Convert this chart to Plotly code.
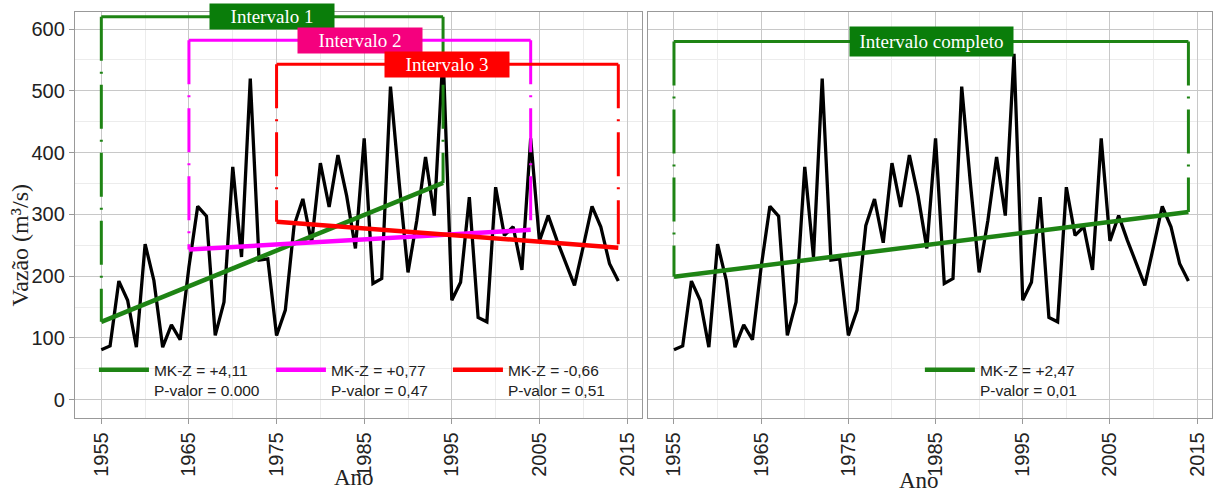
import plotly.graph_objects as go

# ==============================
# Data
# ==============================
anos = list(range(1955, 2015))
vazao = [81, 87, 192, 161, 85, 252, 193, 85, 121, 97,
         215, 313, 297, 104, 158, 377, 231, 520, 226, 228,
         104, 145, 282, 325, 254, 383, 312, 396, 330, 245,
         423, 188, 196, 507, 350, 206, 290, 393, 298, 560,
         161, 190, 328, 133, 126, 344, 266, 280, 210, 423,
         257, 298, 258, 220, 185, 248, 313, 280, 220, 192]

# intervals in the left panel
int_nomes = ["Intervalo 1", "Intervalo 2", "Intervalo 3"]
int_inicio = [1955, 1965, 1975]
int_fim = [1994, 2004, 2014]
tend_inicio = [126, 243, 288]
tend_fim = [351, 275, 246]
topo = [620, 582, 543]
mk_z = ["+4,11", "+0,77", "-0,66"]
p_valor = ["0.000", "0,47", "0,51"]
cor_linha = ["#1e8414", "#ff00ff", "#ff0000"]
cor_caixa = ["#0a7d0a", "#f5007e", "#ff0000"]

# full interval in the right panel
comp_nome = "Intervalo completo"
comp_inicio, comp_fim = 1955, 2014
comp_tend = [199, 304]
comp_topo = 580
comp_mk_z = "+2,47"
comp_p = "0,01"

SANS = "Liberation Sans, Arial, sans-serif"
SERIF = "Liberation Serif, Times New Roman, serif"
DASH = "44px,11px,2px,11px"

fig = go.Figure()

# ==============================
# Left panel
# ==============================
fig.add_trace(go.Scatter(x=anos, y=vazao, mode="lines", line=dict(color="black", width=3.3),
                         showlegend=False, xaxis="x", yaxis="y"))
for i in range(3):
    c = cor_linha[i]
    fig.add_trace(go.Scatter(x=[int_inicio[i], int_fim[i]], y=[topo[i], topo[i]], mode="lines",
                             line=dict(color=c, width=3), showlegend=False, xaxis="x", yaxis="y"))
    fig.add_trace(go.Scatter(x=[int_inicio[i], int_inicio[i]], y=[topo[i], tend_inicio[i]], mode="lines",
                             line=dict(color=c, width=3, dash=DASH), showlegend=False, xaxis="x", yaxis="y"))
    fig.add_trace(go.Scatter(x=[int_fim[i], int_fim[i]], y=[topo[i], tend_fim[i]], mode="lines",
                             line=dict(color=c, width=3, dash=DASH), showlegend=False, xaxis="x", yaxis="y"))
for i in range(3):
    fig.add_trace(go.Scatter(x=[int_inicio[i], int_fim[i]], y=[tend_inicio[i], tend_fim[i]], mode="lines",
                             line=dict(color=cor_linha[i], width=4.5),
                             name="MK-Z = " + mk_z[i] + "<br>P-valor = " + p_valor[i],
                             legend="legend", xaxis="x", yaxis="y"))
    fig.add_annotation(x=(int_inicio[i] + int_fim[i]) / 2, y=topo[i], xref="x", yref="y",
                       text=int_nomes[i], showarrow=False, bgcolor=cor_caixa[i],
                       width=122, height=23, font=dict(family=SERIF, size=19, color="white"))

# ==============================
# Right panel
# ==============================
fig.add_trace(go.Scatter(x=anos, y=vazao, mode="lines", line=dict(color="black", width=3.3),
                         showlegend=False, xaxis="x2", yaxis="y2"))
fig.add_trace(go.Scatter(x=[comp_inicio, comp_fim], y=[comp_topo, comp_topo], mode="lines",
                         line=dict(color=cor_linha[0], width=3), showlegend=False, xaxis="x2", yaxis="y2"))
fig.add_trace(go.Scatter(x=[comp_inicio, comp_inicio], y=[comp_topo, comp_tend[0]], mode="lines",
                         line=dict(color=cor_linha[0], width=3, dash=DASH), showlegend=False, xaxis="x2", yaxis="y2"))
fig.add_trace(go.Scatter(x=[comp_fim, comp_fim], y=[comp_topo, comp_tend[1]], mode="lines",
                         line=dict(color=cor_linha[0], width=3, dash=DASH), showlegend=False, xaxis="x2", yaxis="y2"))
fig.add_trace(go.Scatter(x=[comp_inicio, comp_fim], y=comp_tend, mode="lines",
                         line=dict(color=cor_linha[0], width=4.5),
                         name="MK-Z = " + comp_mk_z + "<br>P-valor = " + comp_p,
                         legend="legend2", xaxis="x2", yaxis="y2"))
fig.add_annotation(x=(comp_inicio + comp_fim) / 2, y=comp_topo, xref="x2", yref="y2",
                   text=comp_nome, showarrow=False, bgcolor=cor_caixa[0],
                   width=161, height=27, font=dict(family=SERIF, size=19, color="white"))

# ==============================
# Axes & layout
# ==============================
eixo_x = dict(range=[1952.0, 2016.7], tickmode="array", tickvals=list(range(1955, 2016, 10)),
              tickangle=-90, tickfont=dict(family=SANS, size=20, color="#222"),
              showgrid=True, gridcolor="#c8c8c8", gridwidth=1,
              minor=dict(tickvals=list(range(1960, 2016, 10)), showgrid=True, gridcolor="#ececec", gridwidth=1),
              showline=True, mirror=True, linecolor="#999", linewidth=1.3,
              ticks="outside", ticklen=5, tickcolor="#999", zeroline=False, automargin=False)
eixo_y = dict(range=[-30, 628], tickmode="array", tickvals=list(range(0, 601, 100)),
              tickfont=dict(family=SANS, size=20, color="#222"),
              showgrid=True, gridcolor="#c8c8c8", gridwidth=1,
              minor=dict(tickvals=list(range(50, 601, 100)), showgrid=True, gridcolor="#ececec", gridwidth=1),
              showline=True, mirror=True, linecolor="#999", linewidth=1.3,
              ticks="outside", ticklen=5, tickcolor="#999", zeroline=False, automargin=False)

fig.update_layout(
    width=1220, height=492,
    margin=dict(l=0, r=0, t=0, b=0, autoexpand=False),
    paper_bgcolor="white", plot_bgcolor="white",
    xaxis=dict(eixo_x, domain=[0.0615, 0.5262]),
    yaxis=dict(eixo_y, domain=[0.150, 0.976], anchor="x"),
    xaxis2=dict(eixo_x, domain=[0.531, 0.9934], anchor="y2"),
    yaxis2=dict(eixo_y, domain=[0.150, 0.976], anchor="x2", showticklabels=False, ticks=""),
    legend=dict(orientation="h", x=0.077, y=0.282, xanchor="left", yanchor="top",
                itemwidth=50, entrywidth=112, entrywidthmode="pixels", valign="top",
                bgcolor="rgba(0,0,0,0)", font=dict(family=SANS, size=15.5, color="#222")),
    legend2=dict(orientation="h", x=0.754, y=0.282, xanchor="left", yanchor="top",
                 itemwidth=50, valign="top", bgcolor="rgba(0,0,0,0)",
                 font=dict(family=SANS, size=15.5, color="#222")),
)

fig.add_annotation(text="Vazão (m³/s)", x=0.016, y=0.5, xref="paper", yref="paper", textangle=-90,
                   xanchor="center", yanchor="middle",
                   showarrow=False, font=dict(family=SERIF, size=24, color="#222"))
fig.add_annotation(text="Ano", x=0.29, y=0.03, xref="paper", yref="paper",
                   xanchor="center", yanchor="middle",
                   showarrow=False, font=dict(family=SERIF, size=23, color="#222"))
fig.add_annotation(text="Ano", x=0.753, y=0.024, xref="paper", yref="paper",
                   xanchor="center", yanchor="middle",
                   showarrow=False, font=dict(family=SERIF, size=23, color="#222"))

fig.write_html("out.html", config={"displayModeBar": False},
               post_script="document.body.style.margin='0';")
